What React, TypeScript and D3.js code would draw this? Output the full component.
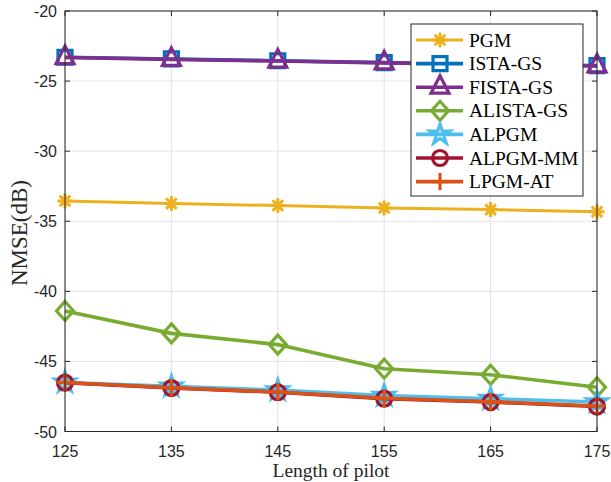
import React from "react";
import * as d3 from "d3";

const pilotLengths = [125, 135, 145, 155, 165, 175];
const pgm = [-33.55, -33.74, -33.88, -34.05, -34.17, -34.33];
const istaGs = [-23.3, -23.42, -23.55, -23.68, -23.8, -23.9];
const fistaGs = [-23.32, -23.45, -23.57, -23.7, -23.82, -23.92];
const alistaGs = [-41.4, -43.0, -43.8, -45.52, -45.95, -46.84];
const alpgm = [-46.5, -46.78, -47.05, -47.43, -47.66, -47.9];
const alpgmMm = [-46.52, -46.9, -47.2, -47.66, -47.9, -48.22];
const lpgmAt = [-46.5, -46.88, -47.18, -47.63, -47.88, -48.18];

const seriesNames = ["PGM", "ISTA-GS", "FISTA-GS", "ALISTA-GS", "ALPGM", "ALPGM-MM", "LPGM-AT"];
const seriesValues = [pgm, istaGs, fistaGs, alistaGs, alpgm, alpgmMm, lpgmAt];
const seriesColors = ["#EDB120", "#0072BD", "#7E2F8E", "#77AC30", "#4DBEEE", "#A2142F", "#D95319"];
const seriesMarkers = ["asterisk", "square", "triangle", "diamond", "star", "circle", "plus"];

const xTicks = [125, 135, 145, 155, 165, 175];
const yTicks = [-50, -45, -40, -35, -30, -25, -20];

const W = 611, H = 482;
const M = { left: 65, right: 597, top: 11, bottom: 431.5 };

function markerPath(type: string): string {
  switch (type) {
    case "asterisk": {
      const a = 7.5, b = 5.3;
      return `M${-a},0L${a},0M0,${-a}L0,${a}M${-b},${-b}L${b},${b}M${-b},${b}L${b},${-b}`;
    }
    case "square": {
      const s = 7;
      return `M${-s},${-s}H${s}V${s}H${-s}Z`;
    }
    case "triangle":
      return `M0,-11.5L9,6L-9,6Z`;
    case "diamond":
      return `M0,-9.5L8.5,0L0,9.5L-8.5,0Z`;
    case "star": {
      const R = 10.5, r = R * 0.382;
      const pts: string[] = [];
      for (let i = 0; i < 10; i++) {
        const ang = -Math.PI / 2 + (i * Math.PI) / 5;
        const rr = i % 2 === 0 ? R : r;
        pts.push(`${(rr * Math.cos(ang)).toFixed(2)},${(rr * Math.sin(ang)).toFixed(2)}`);
      }
      return "M" + pts.join("L") + "Z";
    }
    case "circle": {
      const r = 7.5;
      return `M${r},0A${r},${r},0,1,1,${-r},0A${r},${r},0,1,1,${r},0Z`;
    }
    case "plus": {
      const a = 8.5;
      return `M${-a},0L${a},0M0,${-a}L0,${a}`;
    }
  }
  return "";
}

export default function App() {
  const x = d3.scaleLinear().domain([125, 175]).range([M.left, M.right]);
  const y = d3.scaleLinear().domain([-50, -20]).range([M.bottom, M.top]);
  const line = d3
    .line<number>()
    .x((_, i) => x(pilotLengths[i]))
    .y((d) => y(d));

  const axisColor = "#262626";
  const gridColor = "#e3e3e3";
  const tickLen = 5;

  const legX = 411, legY = 24, legW = 172, legH = 172;
  const rowH = 23.6;
  const lw = (si: number) => (si === 0 ? 3 : 3.6);
  const mw = (si: number) => (si === 0 ? 3 : 3.2);

  return (
    <svg
      width={W}
      height={H}
      style={{ position: "absolute", left: 0, top: 0, background: "#fff" }}
    >
      <rect x={0} y={0} width={W} height={H} fill="#fff" />
      {xTicks.map((t) => (
        <line key={"gx" + t} x1={x(t)} x2={x(t)} y1={M.top} y2={M.bottom} stroke={gridColor} strokeWidth={1} />
      ))}
      {yTicks.map((t) => (
        <line key={"gy" + t} x1={M.left} x2={M.right} y1={y(t)} y2={y(t)} stroke={gridColor} strokeWidth={1} />
      ))}
      {seriesValues.map((vals, si) => (
        <g key={"s" + si}>
          <path d={line(vals) || ""} fill="none" stroke={seriesColors[si]} strokeWidth={lw(si)} strokeLinejoin="round" />
          {vals.map((v, i) => (
            <path
              key={i}
              d={markerPath(seriesMarkers[si])}
              transform={`translate(${x(pilotLengths[i])},${y(v)})`}
              fill="none"
              stroke={seriesColors[si]}
              strokeWidth={mw(si)}
            />
          ))}
        </g>
      ))}
      <rect x={M.left} y={M.top} width={M.right - M.left} height={M.bottom - M.top} fill="none" stroke={axisColor} strokeWidth={1} />
      {xTicks.map((t) => (
        <g key={"tx" + t}>
          <line x1={x(t)} x2={x(t)} y1={M.bottom} y2={M.bottom - tickLen} stroke={axisColor} />
          <line x1={x(t)} x2={x(t)} y1={M.top} y2={M.top + tickLen} stroke={axisColor} />
          <text x={x(t)} y={457} textAnchor="middle" fontFamily="'Liberation Sans', Arial, sans-serif" fontSize={16} fill={axisColor}>
            {t}
          </text>
        </g>
      ))}
      {yTicks.map((t) => (
        <g key={"ty" + t}>
          <line x1={M.left} x2={M.left + tickLen} y1={y(t)} y2={y(t)} stroke={axisColor} />
          <line x1={M.right} x2={M.right - tickLen} y1={y(t)} y2={y(t)} stroke={axisColor} />
          <text x={57} y={y(t) + 6} textAnchor="end" fontFamily="'Liberation Sans', Arial, sans-serif" fontSize={16} fill={axisColor}>
            {t}
          </text>
        </g>
      ))}
      <text x={(M.left + M.right) / 2} y={477} textAnchor="middle" fontFamily="'Liberation Serif', 'Times New Roman', serif" fontSize={19.5} fill={axisColor}>
        Length of pilot
      </text>
      <text
        transform={`translate(27,233) rotate(-90)`}
        textAnchor="middle"
        fontFamily="'Liberation Serif', 'Times New Roman', serif"
        fontSize={23}
        fill={axisColor}
      >
        NMSE(dB)
      </text>
      <rect x={legX} y={legY} width={legW} height={legH} fill="#fff" stroke={axisColor} strokeWidth={1} />
      {seriesNames.map((name, si) => {
        const cy = legY + 16 + si * rowH;
        return (
          <g key={"l" + si}>
            <line x1={416} x2={463} y1={cy} y2={cy} stroke={seriesColors[si]} strokeWidth={lw(si)} />
            <path d={markerPath(seriesMarkers[si])} transform={`translate(440,${cy})`} fill="none" stroke={seriesColors[si]} strokeWidth={mw(si)} />
            <text x={469} y={cy + 6.5} fontFamily="'Liberation Serif', 'Times New Roman', serif" fontSize={19.5} fill="#000">
              {name}
            </text>
          </g>
        );
      })}
    </svg>
  );
}
